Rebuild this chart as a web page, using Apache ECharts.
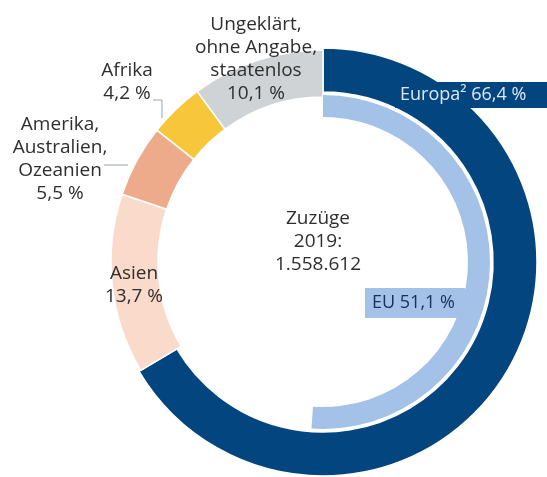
<!DOCTYPE html>
<html>
<head>
<meta charset="utf-8">
<script src="https://cdn.jsdelivr.net/npm/echarts@6/dist/echarts.min.js"></script>
<style>
html,body{margin:0;padding:0;background:#fff;}
#chart{width:547px;height:477px;}
</style>
</head>
<body>
<div id="chart"></div>
<script>
// Zuzüge nach Herkunft
var regions = ['Europa', 'Asien', 'Amerika, Australien, Ozeanien', 'Afrika', 'Ungeklärt, ohne Angabe, staatenlos'];
var shares = [66.4, 13.7, 5.5, 4.2, 10.1];
var colors = ['#02457f', '#f9dacb', '#eeab8b', '#f8c63b', '#cfd3d6'];
var euShare = 51.1;
var year = '2019';
var total = '1.558.612';

function pct(v){
	return v.toFixed(1).replace('.', ',') + ' %';
}

var font = 'Open Sans';
var txtColor = '#2e2e2e';
var cx = 323, cy = 262;

// Europa eigener Ring, Rest etwas nach innen versetzt
var europaData = [];
var restData = [];
for (var i = 0; i < regions.length; i++) {
	europaData.push({
		name: regions[i], value: shares[i],
		itemStyle: i == 0 ? {color: colors[i], borderColor: '#fff', borderWidth: 1.5} : {color: 'transparent', borderWidth: 0}
	});
	restData.push({
		name: regions[i], value: shares[i],
		itemStyle: i == 0 ? {color: 'transparent', borderWidth: 0} : {color: colors[i], borderColor: '#fff', borderWidth: 1.5}
	});
}

var textStyle = function(x, y, lines){
	return {
		type: 'text', x: x, y: y, z: 100,
		style: {
			text: lines.join('\n'), fill: txtColor, font: '19px "' + font + '"',
			align: 'center', verticalAlign: 'middle', lineHeight: 23
		}
	};
};

var myChart = echarts.init(document.getElementById('chart'));
var option = {
	animation: false,
	series: [{
		type: 'pie',
		center: [cx, cy],
		radius: [170, 214],
		startAngle: 90,
		silent: true,
		label: {show: false},
		data: europaData
	}, {
		type: 'pie',
		center: [cx, cy],
		radius: [165, 212],
		startAngle: 90,
		silent: true,
		label: {show: false},
		data: restData
	}, {
		type: 'pie',
		center: [cx, cy],
		radius: [145, 167],
		startAngle: 90,
		silent: true,
		label: {show: false},
		data: [
			{name: 'EU', value: euShare, itemStyle: {color: '#a4c1e7'}},
			{name: 'sonst', value: 100 - euShare, itemStyle: {color: 'transparent'}}
		]
	}],
	graphic: [
		textStyle(256, 59, ['Ungeklärt,', 'ohne Angabe,', 'staatenlos', pct(shares[4])]),
		textStyle(127, 82, ['Afrika', pct(shares[3])]),
		textStyle(60, 159, ['Amerika,', 'Australien,', 'Ozeanien', pct(shares[2])]),
		textStyle(134, 285, ['Asien', pct(shares[1])]),
		textStyle(318, 242, ['Zuzüge', year + ':', total]),
		{type: 'polyline', z: 100, shape: {points: [[153, 100], [162, 100], [162, 118]]}, style: {stroke: '#9aa3a8', lineWidth: 1, fill: null}},
		{type: 'line', z: 100, shape: {x1: 104, y1: 165, x2: 128, y2: 165}, style: {stroke: '#9aa3a8', lineWidth: 1}},
		{type: 'rect', z: 100, shape: {x: 395, y: 82, width: 152, height: 26}, style: {fill: colors[0]}},
		{type: 'text', z: 101, x: 400, y: 95, style: {text: 'Europa² ' + pct(shares[0]), fill: '#dfe8f5', font: '18px "' + font + '"', verticalAlign: 'middle'}},
		{type: 'rect', z: 100, shape: {x: 365, y: 288, width: 100, height: 30}, style: {fill: '#a4c1e7'}},
		{type: 'text', z: 101, x: 372, y: 303, style: {text: 'EU ' + pct(euShare), fill: '#14325a', font: '18px "' + font + '"', verticalAlign: 'middle'}}
	]
};
myChart.setOption(option);
</script>
</body>
</html>
